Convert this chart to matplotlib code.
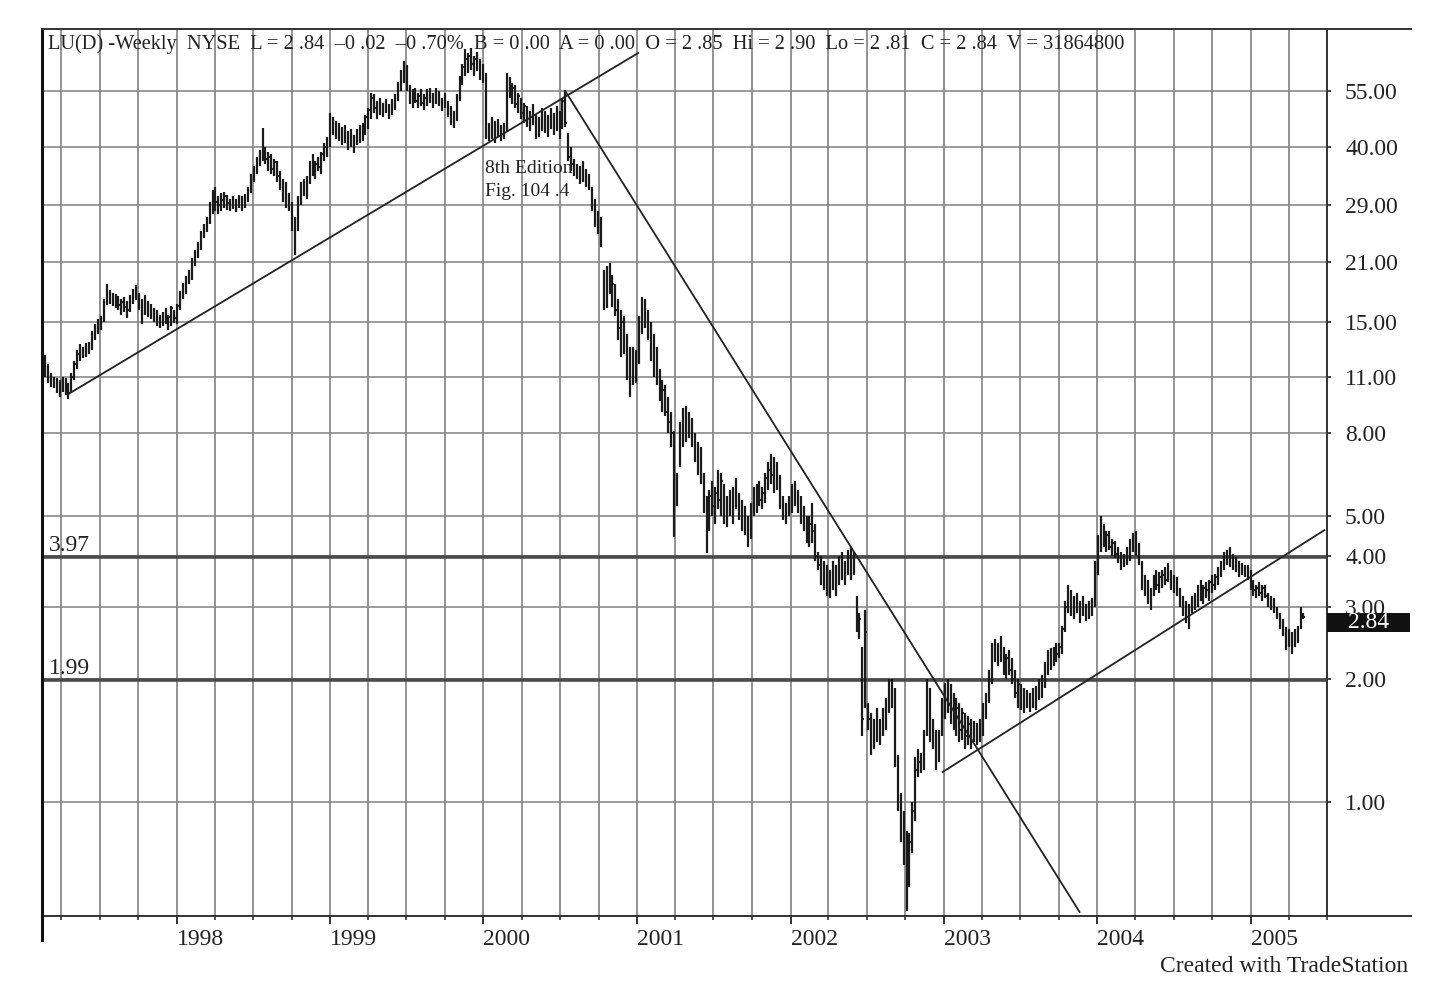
import pandas as pd
import matplotlib
matplotlib.use("Agg")
import matplotlib.pyplot as plt
import matplotlib.dates as mdates
import matplotlib.transforms as mtransforms
from matplotlib.lines import Line2D
from matplotlib.patches import Rectangle
from matplotlib.ticker import FixedLocator, NullLocator

plt.rcParams['font.family'] = ['Liberation Serif', 'DejaVu Serif']

# weekly bars for LU, first week ending 1997-02-21
first_week = "1997-02-21"

highs = [
    12.4, 11.8, 11.2, 11.0, 10.9, 10.8, 11.0, 10.9, 10.6, 11.2,
    12.0, 12.8, 13.2, 13.0, 13.3, 13.4, 14.2, 14.8, 15.2, 15.5,
    17.0, 18.5, 17.9, 17.6, 17.5, 17.3, 17.0, 17.2, 16.8, 17.4,
    18.0, 18.4, 17.6, 17.0, 17.4, 16.8, 16.6, 16.2, 16.0, 15.6,
    15.8, 16.2, 15.6, 16.4, 16.0, 16.6, 17.8, 18.6, 19.4, 20.0,
    21.5, 22.5, 23.5, 25.0, 26.0, 27.0, 29.5, 31.5, 32.0, 30.5,
    31.0, 31.2, 30.6, 30.0, 30.4, 30.0, 30.6, 30.5, 30.8, 32.0,
    34.5, 36.0, 38.0, 39.5, 44.6, 40.0, 39.0, 38.5, 37.5, 37.0,
    35.0, 33.5, 33.0, 31.0, 29.5, 27.0, 30.5, 33.0, 33.5, 34.0,
    37.0, 38.5, 37.0, 38.0, 39.0, 41.0, 42.5, 48.5, 47.5, 46.5,
    46.0, 45.0, 45.5, 44.0, 44.5, 43.0, 44.5, 45.5, 46.0, 48.0,
    50.0, 54.5, 54.0, 52.0, 53.0, 51.5, 52.5, 51.0, 52.5, 54.0,
    58.0, 62.0, 65.0, 63.5, 57.0, 55.5, 56.0, 54.5, 55.5, 54.0,
    55.5, 56.0, 54.5, 56.0, 55.0, 53.0, 54.5, 52.0, 50.5, 49.0,
    54.0, 60.0, 64.0, 69.5, 68.0, 70.0, 67.0, 68.5, 66.0, 64.0,
    61.0, 46.0, 47.5, 46.5, 47.0, 45.5, 46.0, 61.0, 59.5, 57.5,
    57.0, 54.5, 53.0, 51.5, 50.5, 49.0, 51.0, 48.0, 47.5, 50.0,
    49.0, 48.0, 50.0, 48.5, 50.5, 49.0, 53.0, 55.3, 43.5, 40.0,
    37.5, 36.5, 36.0, 37.0, 35.5, 34.5, 32.0, 30.0, 28.0, 27.0,
    20.0, 20.5, 20.9, 19.5, 18.5, 17.0, 16.0, 15.5, 14.0, 13.0,
    13.0, 12.8, 15.5, 17.2, 17.0, 16.0, 15.0, 14.0, 13.0, 11.5,
    10.8, 10.5, 9.8, 9.0, 8.1, 6.4, 8.5, 9.2, 9.3, 9.0,
    8.7, 8.0, 7.6, 7.4, 6.4, 5.6, 5.8, 6.1, 5.9, 6.5,
    6.4, 6.0, 5.6, 5.8, 5.9, 6.2, 5.7, 5.5, 5.3, 5.0,
    5.4, 5.9, 6.0, 6.1, 5.9, 6.4, 6.8, 7.1, 7.0, 6.8,
    6.3, 5.6, 5.4, 5.6, 6.0, 6.1, 5.8, 5.6, 5.3, 5.0,
    5.0, 5.4, 4.8, 4.1, 4.0, 3.9, 3.8, 3.7, 3.9, 3.8,
    4.0, 4.1, 3.9, 4.15, 4.2, 4.1, 3.2, 2.9, 2.4, 2.95,
    1.75, 1.65, 1.6, 1.7, 1.6, 1.7, 1.8, 2.0, 2.0, 1.9,
    1.3, 1.05, 0.95, 0.85, 0.84, 1.0, 1.29, 1.35, 1.32, 1.5,
    2.0, 1.9, 1.6, 1.5, 1.5, 1.8, 1.96, 2.0, 1.95, 1.85,
    1.8, 1.75, 1.7, 1.65, 1.62, 1.6, 1.58, 1.56, 1.6, 1.75,
    1.85, 2.1, 2.45, 2.5, 2.45, 2.55, 2.4, 2.3, 2.35, 2.25,
    2.1, 2.0, 1.95, 1.9, 1.88, 1.85, 1.9, 1.92, 2.0, 2.05,
    2.2, 2.35, 2.38, 2.4, 2.45, 2.45, 2.7, 3.1, 3.4, 3.3,
    3.2, 3.25, 3.1, 3.2, 3.05, 3.1, 3.15, 3.9, 4.5, 5.0,
    4.8, 4.6, 4.6, 4.4, 4.35, 4.2, 4.1, 4.05, 4.2, 4.4,
    4.55, 4.6, 4.3, 3.9, 3.6, 3.5, 3.35, 3.6, 3.7, 3.65,
    3.7, 3.75, 3.85, 3.7, 3.6, 3.55, 3.35, 3.2, 3.1, 3.05,
    3.2, 3.25, 3.4, 3.5, 3.4, 3.45, 3.5, 3.6, 3.62, 3.75,
    3.9, 4.1, 4.15, 4.2, 4.05, 3.98, 3.9, 3.85, 3.8, 3.8,
    3.7, 3.5, 3.4, 3.45, 3.4, 3.4, 3.25, 3.2, 3.15, 3.0,
    2.9, 2.8, 2.68, 2.65, 2.6, 2.65, 2.7, 3.0, 2.90,
]

lows = [
    11.0, 10.6, 10.4, 10.3, 10.0, 9.8, 10.1, 9.9, 9.7, 10.0,
    10.8, 11.5, 12.0, 12.2, 12.3, 12.5, 12.8, 13.5, 14.0, 14.3,
    15.0, 16.5, 16.6, 16.4, 16.2, 16.0, 15.6, 15.8, 15.3, 15.8,
    16.6, 16.9, 16.0, 14.8, 15.6, 15.4, 15.2, 15.0, 14.6, 14.5,
    14.6, 14.8, 14.3, 14.6, 14.9, 14.8, 16.0, 17.0, 17.5, 18.5,
    19.0, 20.5, 21.5, 22.5, 24.0, 24.8, 26.0, 27.5, 28.0, 27.5,
    28.0, 28.5, 28.2, 28.0, 28.3, 27.8, 28.4, 28.0, 28.5, 29.5,
    31.0, 33.0, 34.5, 36.0, 37.0, 36.5, 35.0, 34.5, 34.0, 33.0,
    31.5, 29.5, 28.5, 28.0, 25.0, 21.8, 25.0, 29.0, 30.5, 30.0,
    32.5, 34.0, 33.5, 35.0, 34.5, 37.0, 38.0, 40.0, 43.0, 42.0,
    41.5, 40.5, 41.0, 39.5, 40.0, 38.8, 40.5, 41.0, 41.5, 43.0,
    44.5, 47.0, 48.5, 47.0, 48.0, 47.5, 48.5, 47.0, 48.0, 49.5,
    52.0, 55.0, 57.5, 55.0, 51.0, 50.0, 51.5, 50.0, 50.5, 49.5,
    50.5, 51.5, 50.0, 51.0, 50.5, 49.0, 50.0, 47.5, 45.5, 44.6,
    46.5, 52.0, 57.0, 60.0, 61.0, 62.0, 60.0, 61.5, 58.5, 57.5,
    42.0, 41.5, 42.0, 41.0, 42.5, 41.5, 42.0, 44.0, 53.0, 51.0,
    50.0, 48.5, 47.0, 46.0, 45.0, 44.0, 45.5, 42.0, 42.5, 44.0,
    43.5, 42.5, 44.5, 43.0, 44.0, 42.0, 44.5, 45.0, 37.0, 35.0,
    34.0, 33.5, 32.5, 33.0, 32.0, 31.5, 28.0, 25.5, 24.5, 22.8,
    16.0, 16.2, 17.5, 16.3, 15.5, 13.5, 12.3, 12.5, 10.8, 9.8,
    10.5, 10.6, 11.8, 14.0, 14.5, 13.5, 12.0, 11.0, 10.5, 9.6,
    9.0, 8.8, 8.0, 7.4, 4.45, 5.3, 6.6, 7.4, 7.6, 7.8,
    7.4, 6.8, 6.3, 6.0, 5.1, 4.07, 4.6, 5.0, 4.8, 5.2,
    5.0, 4.8, 4.7, 5.0, 4.8, 5.2, 4.9, 4.6, 4.5, 4.2,
    4.4, 5.0, 5.1, 5.3, 5.2, 5.4, 5.8, 6.0, 5.7, 5.8,
    5.2, 4.9, 4.8, 5.0, 5.1, 5.3, 5.1, 4.8, 4.6, 4.3,
    4.2, 4.3, 3.9, 3.7, 3.4, 3.3, 3.2, 3.15, 3.3, 3.2,
    3.4, 3.5, 3.4, 3.6, 3.5, 3.6, 2.6, 2.5, 1.45, 1.7,
    1.5, 1.3, 1.35, 1.4, 1.38, 1.45, 1.5, 1.65, 1.7, 1.22,
    0.95, 0.8, 0.7, 0.54, 0.62, 0.75, 0.9, 1.15, 1.18, 1.2,
    1.45, 1.4, 1.35, 1.2, 1.25, 1.45, 1.6, 1.65, 1.55, 1.5,
    1.45, 1.4, 1.42, 1.35, 1.38, 1.35, 1.4, 1.38, 1.4, 1.45,
    1.6, 1.75, 1.95, 2.2, 2.15, 2.2, 2.05, 2.0, 2.05, 1.95,
    1.8, 1.7, 1.68, 1.65, 1.7, 1.66, 1.7, 1.68, 1.78, 1.8,
    1.9, 2.05, 2.1, 2.15, 2.2, 2.25, 2.3, 2.6, 2.9, 2.85,
    2.8, 2.9, 2.75, 2.85, 2.78, 2.8, 2.85, 3.0, 3.6, 4.1,
    4.2, 4.1, 4.15, 4.0, 3.95, 3.85, 3.7, 3.75, 3.8, 3.9,
    4.1, 4.0, 3.8, 3.3, 3.2, 3.05, 2.95, 3.2, 3.3, 3.25,
    3.35, 3.4, 3.45, 3.3, 3.25, 3.2, 3.0, 2.85, 2.75, 2.65,
    2.9, 2.95, 3.0, 3.1, 3.05, 3.15, 3.1, 3.25, 3.3, 3.4,
    3.55, 3.7, 3.8, 3.75, 3.7, 3.65, 3.55, 3.6, 3.55, 3.5,
    3.3, 3.2, 3.15, 3.2, 3.1, 3.15, 3.0, 2.95, 2.9, 2.8,
    2.65, 2.55, 2.35, 2.4, 2.3, 2.4, 2.45, 2.65, 2.81,
]

closes = [
    11.5, 10.9, 10.7, 10.5, 10.6, 10.2, 10.8, 10.3, 10.0, 11.0,
    11.8, 12.5, 12.6, 12.8, 12.9, 13.1, 13.9, 14.5, 14.8, 15.2,
    16.8, 17.8, 17.2, 17.0, 16.8, 16.5, 16.7, 16.3, 16.0, 17.0,
    17.6, 17.2, 16.4, 16.8, 16.0, 16.3, 15.6, 15.8, 15.2, 15.0,
    15.4, 15.2, 15.4, 16.2, 15.3, 16.4, 17.5, 18.2, 19.0, 19.5,
    21.2, 22.0, 23.2, 24.5, 25.6, 26.5, 29.0, 30.0, 29.5, 29.0,
    29.8, 30.5, 29.3, 29.5, 29.0, 29.2, 30.0, 28.8, 30.5, 31.8,
    34.0, 35.5, 37.5, 38.5, 39.0, 37.5, 38.0, 35.5, 36.8, 34.0,
    32.0, 33.0, 30.0, 29.2, 25.8, 25.0, 30.0, 32.5, 31.5, 33.5,
    36.0, 35.0, 36.5, 35.8, 38.5, 40.0, 41.5, 46.0, 44.0, 45.5,
    42.5, 44.0, 42.0, 43.0, 41.0, 42.5, 44.0, 42.5, 45.5, 47.5,
    49.5, 53.0, 50.0, 51.5, 49.5, 50.5, 49.0, 50.5, 51.5, 53.5,
    57.0, 60.5, 63.0, 56.0, 53.0, 54.5, 52.0, 53.5, 51.5, 53.0,
    54.5, 52.5, 53.5, 55.0, 51.0, 52.5, 50.5, 48.0, 49.5, 46.0,
    53.0, 59.0, 63.0, 66.0, 67.0, 64.0, 66.0, 63.5, 60.0, 62.0,
    43.5, 44.5, 45.5, 42.5, 46.0, 43.0, 45.0, 58.0, 55.0, 56.0,
    51.0, 53.5, 48.5, 50.5, 46.0, 48.5, 47.0, 43.0, 46.5, 48.0,
    45.0, 47.0, 46.0, 48.0, 45.5, 48.0, 52.0, 46.0, 38.0, 36.5,
    35.0, 34.0, 35.5, 33.5, 34.5, 32.0, 29.0, 27.0, 26.0, 23.5,
    17.0, 19.5, 18.0, 18.5, 16.0, 14.5, 15.0, 13.0, 11.5, 12.5,
    11.0, 12.2, 15.0, 16.5, 15.0, 15.5, 12.5, 13.5, 11.0, 10.0,
    10.2, 9.0, 8.5, 8.0, 6.0, 6.0, 8.2, 8.8, 8.0, 8.6,
    7.6, 7.0, 7.3, 6.3, 5.4, 5.0, 5.6, 5.3, 5.7, 5.5,
    6.1, 5.0, 5.4, 5.2, 5.7, 5.4, 5.0, 5.3, 4.8, 4.6,
    5.2, 5.4, 5.8, 5.5, 5.7, 6.2, 6.5, 6.3, 6.8, 6.0,
    5.4, 5.0, 5.3, 5.2, 5.8, 5.5, 5.6, 5.0, 4.8, 4.5,
    4.8, 4.6, 4.0, 3.8, 3.6, 3.7, 3.3, 3.5, 3.4, 3.7,
    3.8, 3.6, 3.8, 4.0, 3.7, 3.9, 2.7, 2.8, 1.6, 2.6,
    1.6, 1.4, 1.5, 1.45, 1.55, 1.6, 1.75, 1.9, 1.75, 1.3,
    1.0, 0.85, 0.75, 0.7, 0.8, 0.95, 1.2, 1.25, 1.22, 1.45,
    1.85, 1.5, 1.4, 1.3, 1.45, 1.75, 1.9, 1.7, 1.85, 1.6,
    1.7, 1.5, 1.65, 1.45, 1.55, 1.4, 1.5, 1.45, 1.55, 1.7,
    1.8, 2.05, 2.4, 2.3, 2.4, 2.3, 2.15, 2.25, 2.1, 2.0,
    1.85, 1.95, 1.75, 1.85, 1.75, 1.8, 1.78, 1.88, 1.95, 1.9,
    2.15, 2.3, 2.2, 2.35, 2.3, 2.4, 2.65, 3.0, 3.2, 3.0,
    3.1, 2.95, 3.05, 2.9, 2.85, 3.0, 2.9, 3.8, 4.3, 4.6,
    4.4, 4.5, 4.2, 4.3, 4.05, 4.1, 3.8, 3.95, 4.1, 4.3,
    4.4, 4.2, 3.9, 3.4, 3.5, 3.1, 3.25, 3.5, 3.4, 3.55,
    3.6, 3.5, 3.7, 3.4, 3.5, 3.3, 3.1, 2.95, 2.9, 3.0,
    3.1, 3.0, 3.3, 3.2, 3.35, 3.3, 3.45, 3.4, 3.55, 3.7,
    3.85, 4.0, 3.9, 4.05, 3.8, 3.9, 3.65, 3.75, 3.7, 3.6,
    3.4, 3.3, 3.35, 3.25, 3.35, 3.2, 3.05, 3.1, 2.95, 2.85,
    2.7, 2.6, 2.45, 2.55, 2.4, 2.5, 2.65, 2.86, 2.84,
]

price_ticks = [55, 40, 29, 21, 15, 11, 8, 5, 4, 3, 2, 1]
level_lines = [3.97, 1.99]
last_close = 2.84

# trendlines: (start date, start price, end date, end price)
trend_lines = [
    ("1997-04-20", 10.0, "2001-01-03", 68.1),
    ("2000-07-15", 54.7, "2003-11-20", 0.538),
    ("2002-12-29", 1.184, "2005-06-25", 4.63),
]

header = ("LU(D) -Weekly  NYSE  L = 2 .84  \u20130 .02  \u20130 .70%  B = 0 .00  "
          "A = 0 .00  O = 2 .85  Hi = 2 .90  Lo = 2 .81  C = 2 .84  V = 31864800")
note = "8th Edition\nFig. 104 .4"
credit = "Created with TradeStation"

W, H = 1451, 1005


def fx(x):
    return x / W


def fy(y):
    return 1 - y / H


dates = pd.date_range(first_week, periods=len(highs), freq="7D")

fig = plt.figure(figsize=(W / 100, H / 100), dpi=100)
ax = fig.add_axes([fx(42), fy(916), (1327 - 42) / W, (916 - 29) / H])

bar_col = "#1a1a1a"
grid_col = "#8a8a8a"
ax.vlines(dates, lows, highs, color=bar_col, lw=1.6, zorder=3)
ax.hlines(closes, dates, dates + pd.Timedelta(days=3), color=bar_col, lw=1.5, zorder=3)

for d0, p0, d1, p1 in trend_lines:
    ax.plot([pd.Timestamp(d0), pd.Timestamp(d1)], [p0, p1], color="#222222", lw=1.3, zorder=4)

ax.set_yscale("log")
ax.set_ylim(0.526, 78.0)
ax.set_xlim(pd.Timestamp("1997-02-14"), pd.Timestamp("2005-07-01"))

# price axis on the right
ax.yaxis.tick_right()
ax.yaxis.set_major_locator(FixedLocator(price_ticks))
ax.yaxis.set_minor_locator(NullLocator())
ax.set_yticklabels([f"{v:.2f}" for v in price_ticks])
ax.tick_params(axis="y", which="major", direction="out", length=3, width=1.2,
               pad=10, labelsize=17, colors="#222222")

# date axis
ax.xaxis.set_major_locator(mdates.YearLocator())
ax.xaxis.set_major_formatter(mdates.DateFormatter("%Y"))
ax.xaxis.set_minor_locator(mdates.MonthLocator(bymonth=[4, 7, 10]))
ax.tick_params(axis="x", which="major", direction="out", length=6, width=1.3,
               pad=3, labelsize=17, colors="#222222")
ax.tick_params(axis="x", which="minor", direction="out", length=3, width=1.2, colors="#333333")
for lab in ax.get_xticklabels():
    lab.set_ha("left")

ax.grid(True, axis="x", which="both", color=grid_col, lw=1.3)
ax.grid(True, axis="y", which="major", color=grid_col, lw=1.2)
ax.set_axisbelow(True)

for lv in level_lines:
    ax.axhline(lv, color="#4a4a4a", lw=2.6, zorder=2)
    ax.text(0.005, lv * 1.008, f"{lv:.2f}", transform=ax.get_yaxis_transform(),
            ha="left", va="bottom", fontsize=17, color="#222222")

for side in ["top", "bottom", "right"]:
    ax.spines[side].set_color("#333333")
    ax.spines[side].set_linewidth(1.4)
ax.spines["left"].set_color("#111111")
ax.spines["left"].set_linewidth(2.2)

# last price marker on the price scale
trans = mtransforms.blended_transform_factory(ax.transAxes, ax.transData)
ax.add_patch(Rectangle((1.0, 2.60), (1410 - 1327) / (1327 - 42), 0.30, transform=trans,
                       facecolor="#111111", edgecolor="none", clip_on=False, zorder=10))
ax.text(1.032, 2.745, f"{last_close:.2f}", transform=trans, ha="center", va="center",
        fontsize=17, color="white", zorder=11, clip_on=False)

ax.text(pd.Timestamp("2000-01-05"), 37.3, note, ha="left", va="top", fontsize=14,
        linespacing=1.5, color="#222222", zorder=5)

# frame lines that run past the price scale
fig.add_artist(Line2D([fx(1327), fx(1411)], [fy(29), fy(29)], color="#333333", lw=1.4))
fig.add_artist(Line2D([fx(1327), fx(1411)], [fy(916), fy(916)], color="#333333", lw=1.4))
fig.add_artist(Line2D([fx(42), fx(42)], [fy(916), fy(940)], color="#111111", lw=2.2))

fig.text(fx(48), fy(44), header, ha="left", va="center", fontsize=14.7, color="#222222")
fig.text(fx(1408), fy(966), credit, ha="right", va="center", fontsize=17, color="#222222")

fig.savefig("out.png", dpi=100, facecolor="white")
